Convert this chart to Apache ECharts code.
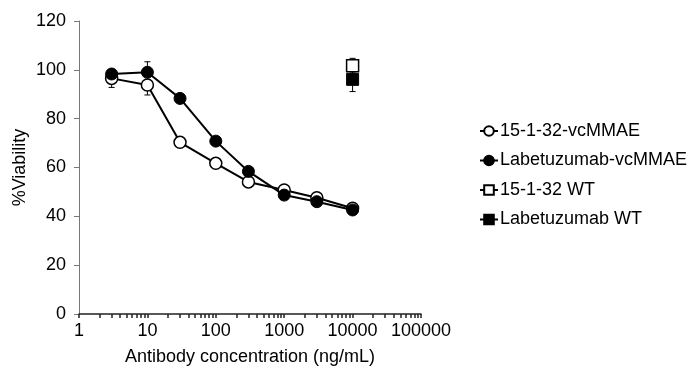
<!DOCTYPE html>
<html>
<head>
<meta charset="UTF-8">
<title>Viability</title>
<script src="https://cdn.jsdelivr.net/npm/echarts@6/dist/echarts.min.js"></script>
<style>
  html, body { margin: 0; padding: 0; background: #fff; }
  #main { width: 699px; height: 374px; }
</style>
</head>
<body>
<div id="main"></div>
<script>
// values
var concentrations = [3, 10, 30, 100, 300, 1000, 3000, 10000];
var adc1532 = [96.5, 93.8, 70.3, 61.7, 54.1, 50.8, 47.6, 43.3];
var adc1532Err = [3.7, 4.1, 1, 1, 1, 1, 1, 1];
var adcLabe = [98.3, 99.0, 88.3, 70.8, 58.4, 48.7, 46.0, 42.6];
var adcLabeErr = [1.5, 4.3, 1, 1, 1, 1, 1, 1];
var wtConc = [10000];
var wt1532 = [101.7];
var wt1532Err = [3];
var wtLabe = [96.1];
var wtLabeErr = [5];
var xTicks = [1,2,3,4,5,6,7,8,9,10,20,30,40,50,60,70,80,90,100,200,300,400,500,600,700,800,900,
              1000,2000,3000,4000,5000,6000,7000,8000,9000,10000,20000,30000,40000,50000,60000,70000,80000,90000,100000];

var FONT = '"Liberation Sans", Arial, sans-serif';

function pairs(xs, ys, es) {
    return xs.map(function (x, i) { return es ? [x, ys[i], es[i]] : [x, ys[i]]; });
}

function errorBars(name, xs, ys, es) {
    return {
        name: name + ' err',
        type: 'custom',
        z: 1,
        silent: true,
        data: pairs(xs, ys, es),
        renderItem: function (params, api) {
            var x = api.value(0), y = api.value(1), e = api.value(2);
            var top = api.coord([x, y + e]);
            var bot = api.coord([x, y - e]);
            var st = { stroke: '#000', lineWidth: 1 };
            return {
                type: 'group',
                children: [
                    { type: 'line', shape: { x1: top[0], y1: top[1], x2: bot[0], y2: bot[1] }, style: st },
                    { type: 'line', shape: { x1: top[0] - 3, y1: top[1], x2: top[0] + 3, y2: top[1] }, style: st },
                    { type: 'line', shape: { x1: bot[0] - 3, y1: bot[1], x2: bot[0] + 3, y2: bot[1] }, style: st }
                ]
            };
        }
    };
}

var myChart = echarts.init(document.getElementById('main'));

var option = {
    animation: false,
    backgroundColor: '#fff',
    textStyle: { fontFamily: FONT },
    grid: { left: 79, right: 278, top: 21, bottom: 60 },
    legend: {
        data: ['15-1-32-vcMMAE', 'Labetuzumab-vcMMAE', '15-1-32 WT', 'Labetuzumab WT'],
        orient: 'vertical',
        left: 474,
        top: 117,
        itemWidth: 18,
        itemHeight: 12,
        itemGap: 11.5,
        textStyle: { fontFamily: FONT, fontSize: 18, color: '#000', padding: [0, 0, 0, -3] }
    },
    xAxis: {
        type: 'log',
        logBase: 10,
        min: 1,
        max: 100000,
        name: 'Antibody concentration (ng/mL)',
        nameLocation: 'middle',
        nameGap: 34,
        nameTextStyle: { fontFamily: FONT, fontSize: 18, color: '#000' },
        axisLine: { lineStyle: { color: '#222', width: 1.5 } },
        axisTick: { show: true, length: 4, customValues: xTicks, lineStyle: { color: '#222', width: 1.5 } },
        axisLabel: {
            fontFamily: FONT, fontSize: 18, color: '#000', margin: 8,
            formatter: function (v) { return String(v); }
        },
        splitLine: { show: false },
        minorTick: { show: false }
    },
    yAxis: {
        type: 'value',
        min: 0,
        max: 120,
        interval: 20,
        name: '%Viability',
        nameLocation: 'middle',
        nameGap: 50,
        nameTextStyle: { fontFamily: FONT, fontSize: 18, color: '#000' },
        axisLine: { show: true, lineStyle: { color: '#777', width: 1 } },
        axisTick: { show: true, length: 5, lineStyle: { color: '#777' } },
        axisLabel: { fontFamily: FONT, fontSize: 18, color: '#000', margin: 13 },
        splitLine: { show: false }
    },
    series: [
        errorBars('15-1-32-vcMMAE', concentrations, adc1532, adc1532Err),
        errorBars('Labetuzumab-vcMMAE', concentrations, adcLabe, adcLabeErr),
        errorBars('15-1-32 WT', wtConc, wt1532, wt1532Err),
        errorBars('Labetuzumab WT', wtConc, wtLabe, wtLabeErr),
        {
            name: '15-1-32-vcMMAE',
            type: 'line',
            z: 2,
            data: pairs(concentrations, adc1532),
            symbol: 'circle',
            symbolSize: 12,
            lineStyle: { color: '#000', width: 2 },
            itemStyle: { color: '#fff', borderColor: '#000', borderWidth: 1.5 }
        },
        {
            name: 'Labetuzumab-vcMMAE',
            type: 'line',
            z: 3,
            data: pairs(concentrations, adcLabe),
            symbol: 'circle',
            symbolSize: 12,
            lineStyle: { color: '#000', width: 2 },
            itemStyle: { color: '#000', borderColor: '#000', borderWidth: 1 }
        },
        {
            name: '15-1-32 WT',
            type: 'line',
            z: 2,
            data: pairs(wtConc, wt1532),
            symbol: 'rect',
            symbolSize: 12,
            showAllSymbol: true,
            lineStyle: { color: '#000', width: 2 },
            itemStyle: { color: '#fff', borderColor: '#000', borderWidth: 1.5 }
        },
        {
            name: 'Labetuzumab WT',
            type: 'line',
            z: 3,
            data: pairs(wtConc, wtLabe),
            symbol: 'rect',
            symbolSize: 12,
            showAllSymbol: true,
            lineStyle: { color: '#000', width: 2 },
            itemStyle: { color: '#000', borderColor: '#000', borderWidth: 1 }
        }
    ]
};

myChart.setOption(option);
</script>
</body>
</html>
